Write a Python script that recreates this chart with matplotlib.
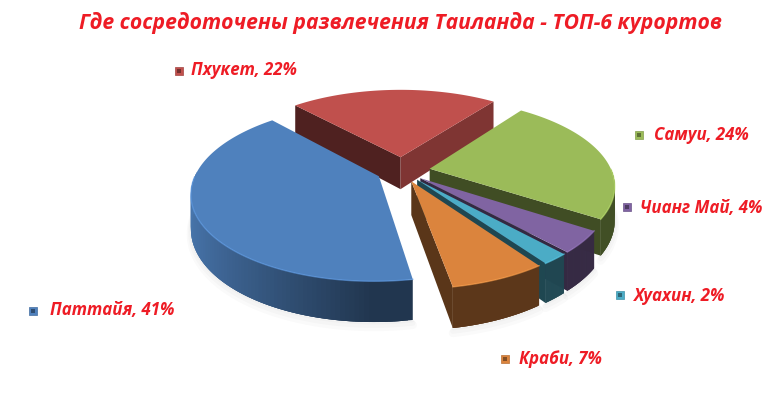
"""Exploded 3D-look pie of Thai resorts, drawn as projected polygons on a pixel-sized axes."""
import numpy as np
import matplotlib
matplotlib.use("Agg")
import matplotlib.pyplot as plt
from matplotlib.colors import to_rgb

TITLE = "Где сосредоточены развлечения Таиланда - ТОП-6 курортов"
NAMES = ["Паттайя", "Пхукет", "Самуи", "Чианг Май", "Хуахин", "Краби"]
VALUES = [41, 22, 24, 4, 2, 7]
COLORS = ["#4F81BD", "#C0504D", "#9BBB59", "#8064A2", "#4BACC6", "#DB843D"]
EXPLODE = [0.14, 0.17, 0.155, 0.13, 0.13, 0.13]

# layout, in pixels of the 771x415 picture
LABEL_XY = [(50, 310), (191, 70), (654, 135), (640, 208), (634, 296), (519, 359)]
MARKER_XY = [(33, 311), (179, 71), (639, 135), (627, 207), (620, 295), (505, 359)]
START_ANGLE = 80.0  # clockwise on screen, from +x
CX, CY = 402, 171
RX, RY = 182, 84
PERSP = 0.18
DEPTH = 33
TEXT_RED = "#EE1C25"
FONT = "Open Sans"


def project(u, v):
    s = 1 / (1 - PERSP * v)
    return CX + RX * u * s, CY + RY * v * s, DEPTH * s


def slice_points(theta, mid, expl):
    u = np.cos(theta) + expl * np.cos(mid)
    v = np.sin(theta) + expl * np.sin(mid)
    return project(u, v)


def side_shade(theta_deg):
    # front faces are dark, the left of the pie catches the light
    t = np.clip((np.sin(np.radians(theta_deg - 90)) if theta_deg > 90 else 0.0), 0, 1)
    return 0.42 + 0.5 * t


def draw_shadow(ax, a0, a1, expl):
    mid = np.radians((a0 + a1) / 2)
    th = np.radians(np.linspace(a0, a1, 120))
    th = th[np.sin(th) > 0]
    if len(th) == 0:
        return
    x, y, d = slice_points(th, mid, expl)
    for grow in [6, 4, 2]:
        ax.plot(x, y + d + grow - 1, color="#000000", alpha=0.02, linewidth=grow,
                solid_capstyle="round", zorder=0.5)


def draw_slice(ax, a0, a1, color, expl):
    rgb = np.array(to_rgb(color))
    mid = np.radians((a0 + a1) / 2)
    apex_x, apex_y, apex_d = project(expl * np.cos(mid), expl * np.sin(mid))
    angles = np.linspace(a0, a1, 120)
    th = np.radians(angles)
    x, y, d = slice_points(th, mid, expl)
    front = np.sin(th) > 0

    # radial walls, only those turned towards the viewer
    if np.sin(np.radians(a0 - 90)) > 0:
        ax.fill([apex_x, x[0], x[0], apex_x], [apex_y, y[0], y[0] + d[0], apex_y + apex_d],
                color=rgb * 0.41, linewidth=0)
    if np.sin(np.radians(a1 + 90)) > 0:
        wall = 0.66 if np.cos(np.radians(a1)) > 0.5 and a1 % 360 > 90 else 0.41
        ax.fill([apex_x, x[-1], x[-1], apex_x], [apex_y, y[-1], y[-1] + d[-1], apex_y + apex_d],
                color=rgb * wall, linewidth=0)

    # outer wall as overlapping strips, so no seams show between them
    for i in range(len(th) - 1):
        if np.sin(th[i]) <= 0 and np.sin(th[i + 1]) <= 0:
            continue
        j = min(i + 3, len(th) - 1)
        c = rgb * side_shade(angles[i] % 360)
        ax.fill([x[i], x[j], x[j], x[i]], [y[i], y[j], y[j] + d[j], y[i] + d[i]],
                facecolor=c, edgecolor="none", linewidth=0)

    # top
    ax.fill(np.r_[apex_x, x], np.r_[apex_y, y], color=color, linewidth=0)
    # bevel along the rim
    if front.any():
        rim = np.clip(rgb * 1.22, 0, 1)
        ax.plot(x[front], y[front], color=rim, linewidth=1.0, alpha=0.6)


def main():
    fig = plt.figure(figsize=(7.71, 4.15), dpi=100)
    ax = fig.add_axes([0, 0, 1, 1])
    ax.set_xlim(0, 771)
    ax.set_ylim(415, 0)
    ax.axis("off")

    edges = START_ANGLE + np.r_[0, np.cumsum(VALUES)] * 3.6
    spans = list(zip(edges[:-1], edges[1:], COLORS, EXPLODE))
    for a0, a1, _, expl in spans:
        draw_shadow(ax, a0, a1, expl)
    for a0, a1, color, expl in sorted(spans, key=lambda s: np.sin(np.radians((s[0] + s[1]) / 2))):
        draw_slice(ax, a0, a1, color, expl)

    for name, val, color, (tx, ty), (mx, my) in zip(NAMES, VALUES, COLORS, LABEL_XY, MARKER_XY):
        shade = np.array(to_rgb(color))
        ax.scatter([mx], [my], marker="s", s=32, color=shade, edgecolors=shade * 0.85,
                   linewidths=0.5, zorder=5)
        ax.scatter([mx], [my], marker="s", s=10, color=shade * 0.6, linewidths=0, zorder=6)
        ax.text(tx, ty, f"{name}, {val}%", color=TEXT_RED, fontsize=12.2, family=FONT,
                fontweight="bold", fontstyle="italic", va="center", ha="left")

    ax.text(400.5, 23, TITLE, color=TEXT_RED, fontsize=15.25, family=FONT,
            fontweight="bold", fontstyle="italic", va="center", ha="center")

    fig.savefig("out.png", dpi=100, facecolor="white")


if __name__ == "__main__":
    main()
